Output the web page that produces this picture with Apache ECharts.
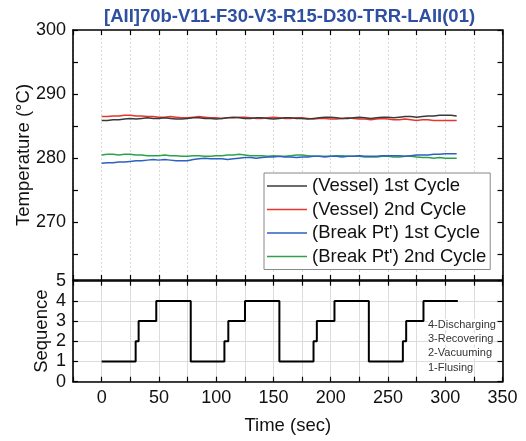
<!DOCTYPE html>
<html><head><meta charset="utf-8">
<script src="https://cdn.jsdelivr.net/npm/echarts@6/dist/echarts.min.js"></script>
<style>html,body{margin:0;padding:0;background:#fff}#c{width:526px;height:441px}</style>
</head><body><div id="c"></div>
<script>
var titleText = "[AII]70b-V11-F30-V3-R15-D30-TRR-LAII(01)";
var seriesNames = ["(Vessel) 1st Cycle", "(Vessel) 2nd Cycle", "(Break Pt') 1st Cycle", "(Break Pt') 2nd Cycle"];
var time = [0,5,10,15,20,25,30,35,40,45,50,55,60,65,70,75,80,85,90,95,100,105,110,115,120,125,130,135,140,145,150,155,160,165,170,175,180,185,190,195,200,205,210,215,220,225,230,235,240,245,250,255,260,265,270,275,280,285,290,295,300,305,310];
var vessel1 = [285.9,285.9,286.0,286.0,286.1,286.2,286.1,286.2,286.3,286.2,286.2,286.3,286.2,286.1,286.1,286.2,286.3,286.3,286.2,286.2,286.1,286.2,286.3,286.4,286.3,286.2,286.2,286.3,286.3,286.2,286.1,286.2,286.3,286.3,286.2,286.2,286.1,286.2,286.3,286.4,286.4,286.3,286.2,286.2,286.3,286.4,286.3,286.2,286.3,286.4,286.4,286.3,286.4,286.5,286.5,286.4,286.5,286.6,286.6,286.7,286.7,286.7,286.6];
var vessel2 = [286.5,286.5,286.6,286.6,286.7,286.7,286.6,286.6,286.5,286.5,286.4,286.4,286.5,286.4,286.3,286.3,286.4,286.5,286.4,286.3,286.3,286.2,286.3,286.3,286.4,286.4,286.3,286.2,286.2,286.3,286.4,286.3,286.2,286.2,286.3,286.3,286.2,286.1,286.2,286.2,286.1,286.1,286.2,286.3,286.2,286.1,286.1,286.0,286.1,286.2,286.1,286.0,286.0,286.1,286.0,285.9,286.0,286.0,285.9,285.9,285.9,285.9,285.9];
var breakPt1 = [279.2,279.3,279.3,279.4,279.4,279.5,279.6,279.6,279.7,279.8,279.7,279.8,279.7,279.6,279.6,279.6,279.8,279.9,280.0,279.9,279.9,279.9,279.8,279.9,280.0,280.1,280.1,280.0,280.1,280.2,280.2,280.3,280.2,280.2,280.1,280.2,280.2,280.3,280.3,280.2,280.3,280.3,280.2,280.3,280.3,280.4,280.3,280.3,280.3,280.4,280.4,280.4,280.4,280.3,280.4,280.5,280.5,280.5,280.6,280.6,280.7,280.7,280.7];
var breakPt2 = [280.5,280.6,280.6,280.5,280.6,280.6,280.5,280.5,280.4,280.4,280.4,280.5,280.4,280.4,280.3,280.3,280.4,280.4,280.3,280.3,280.4,280.4,280.5,280.5,280.6,280.5,280.4,280.4,280.4,280.3,280.4,280.3,280.3,280.4,280.5,280.5,280.4,280.3,280.3,280.3,280.3,280.4,280.4,280.3,280.3,280.3,280.2,280.2,280.2,280.3,280.3,280.2,280.2,280.3,280.3,280.2,280.1,280.1,280.0,280.1,280.0,280.0,280.0];
var seqTime = [0,29.7,32.3,47.7,77.8,107.2,110.6,125.2,155.2,185,187.9,203.3,233.3,263,265.9,281,311];
var seqValue = [1,2,3,4,1,2,3,4,1,2,3,4,1,2,3,4,4];
var seqLabels = ["4-Discharging","3-Recovering","2-Vacuuming","1-Flusing"];
var tempLabelTicks = [270,280,290,300];
var tempMinorTicks = [265,270,275,280,285,290,295,300];

function zip(a,b){ return a.map(function(v,i){ return [v,b[i]]; }); }

var chart = echarts.init(document.getElementById('c'), null, {renderer:'canvas'});
var FONT = 'Liberation Sans, Arial, sans-serif';
var axLine = {show:true, onZero:false, lineStyle:{color:'#000', width:1.6}};
var tick = {show:true, inside:true, length:5, lineStyle:{color:'#000', width:1.2}};
var vGrid = {show:true, lineStyle:{color:'#dadada', width:1, type:[2,2]}};
var LBL = 18;

function xAx(grid, pos, opts){
  return Object.assign({type:'value', gridIndex:grid, position:pos, min:-25, max:350, interval:25,
    axisLine:axLine, axisTick:tick, axisLabel:{show:false}, splitLine:{show:false}}, opts||{});
}

var option = {
  animation:false,
  title:{text:titleText, left:99, top:2, textStyle:{color:'#2f4fa3', fontSize:18.5, fontWeight:'bold', fontFamily:FONT}},
  grid:[
    {left:73, right:23.5, top:30, height:250},
    {left:73, right:23.5, top:280.7, height:101}
  ],
  xAxis:[
    xAx(0,'bottom',{splitLine:vGrid}),
    xAx(0,'top'),
    xAx(1,'bottom',{splitLine:{show:true, lineStyle:{color:'#dcdcdc', width:1}},
      axisLabel:{show:true, margin:7, color:'#111', fontSize:LBL, fontFamily:FONT,
        formatter:function(v){ return (v>=0 && v%50===0) ? String(v) : ''; }},
      name:'Time (sec)', nameLocation:'middle', nameGap:35, nameMoveOverlap:false,
      nameTextStyle:{color:'#111', fontSize:18.5, fontFamily:FONT}}),
    xAx(1,'top')
  ],
  yAxis:[
    {type:'value', gridIndex:0, position:'left', min:261, max:300,
      axisLine:axLine, axisTick:Object.assign({}, tick, {customValues:tempMinorTicks}),
      axisLabel:{show:true, customValues:tempLabelTicks, margin:7, color:'#111', fontSize:LBL, fontFamily:FONT},
      splitLine:{show:false},
      name:'Temperature (\u00B0C)', nameLocation:'middle', nameGap:40, nameMoveOverlap:false,
      nameTextStyle:{color:'#111', fontSize:18.5, fontFamily:FONT}},
    {type:'value', gridIndex:0, position:'right', min:261, max:300,
      axisLine:axLine, axisTick:Object.assign({}, tick, {customValues:tempMinorTicks}),
      axisLabel:{show:false}, splitLine:{show:false}},
    {type:'value', gridIndex:1, position:'left', min:0, max:5, interval:1,
      axisLine:axLine, axisTick:tick,
      axisLabel:{show:true, margin:7, color:'#111', fontSize:LBL, fontFamily:FONT},
      splitLine:{show:true, lineStyle:{color:'#dcdcdc', width:1}},
      name:'Sequence', nameLocation:'middle', nameGap:21.5, nameMoveOverlap:false,
      nameTextStyle:{color:'#111', fontSize:18.5, fontFamily:FONT}},
    {type:'value', gridIndex:1, position:'right', min:0, max:5, interval:1,
      axisLine:axLine, axisTick:tick, axisLabel:{show:false}, splitLine:{show:false}}
  ],
  legend:{
    data:seriesNames, orient:'vertical', left:264, top:173, icon:'rect',
    itemWidth:40, itemHeight:1.5, itemGap:3.5,
    padding:[3,4,3,3], borderColor:'#888', borderWidth:1, backgroundColor:'#fff',
    textStyle:{color:'#111', fontSize:18.5, fontFamily:FONT, lineHeight:20}
  },
  series:[
    {name:seriesNames[0], type:'line', xAxisIndex:0, yAxisIndex:0, data:zip(time,vessel1), symbol:'none', lineStyle:{color:'#3a3a3a', width:1.5}, itemStyle:{color:'#3a3a3a'}, z:3},
    {name:seriesNames[1], type:'line', xAxisIndex:0, yAxisIndex:0, data:zip(time,vessel2), symbol:'none', lineStyle:{color:'#e8352b', width:1.5}, itemStyle:{color:'#e8352b'}, z:2},
    {name:seriesNames[2], type:'line', xAxisIndex:0, yAxisIndex:0, data:zip(time,breakPt1), symbol:'none', lineStyle:{color:'#2d5fc4', width:1.5}, itemStyle:{color:'#2d5fc4'}, z:3},
    {name:seriesNames[3], type:'line', xAxisIndex:0, yAxisIndex:0, data:zip(time,breakPt2), symbol:'none', lineStyle:{color:'#2ea24a', width:1.5}, itemStyle:{color:'#2ea24a'}, z:2},
    {name:'Sequence', type:'line', xAxisIndex:2, yAxisIndex:2, step:'end', data:zip(seqTime,seqValue), symbol:'none', lineStyle:{color:'#000', width:2}, z:4}
  ],
  graphic: seqLabels.map(function(t,i){
    return {type:'text', left:428, top:319+i*14.4, z:10,
      style:{text:t, fill:'#333', font:'11px ' + FONT, backgroundColor:'#fff'}};
  })
};
chart.setOption(option);
</script></body></html>
